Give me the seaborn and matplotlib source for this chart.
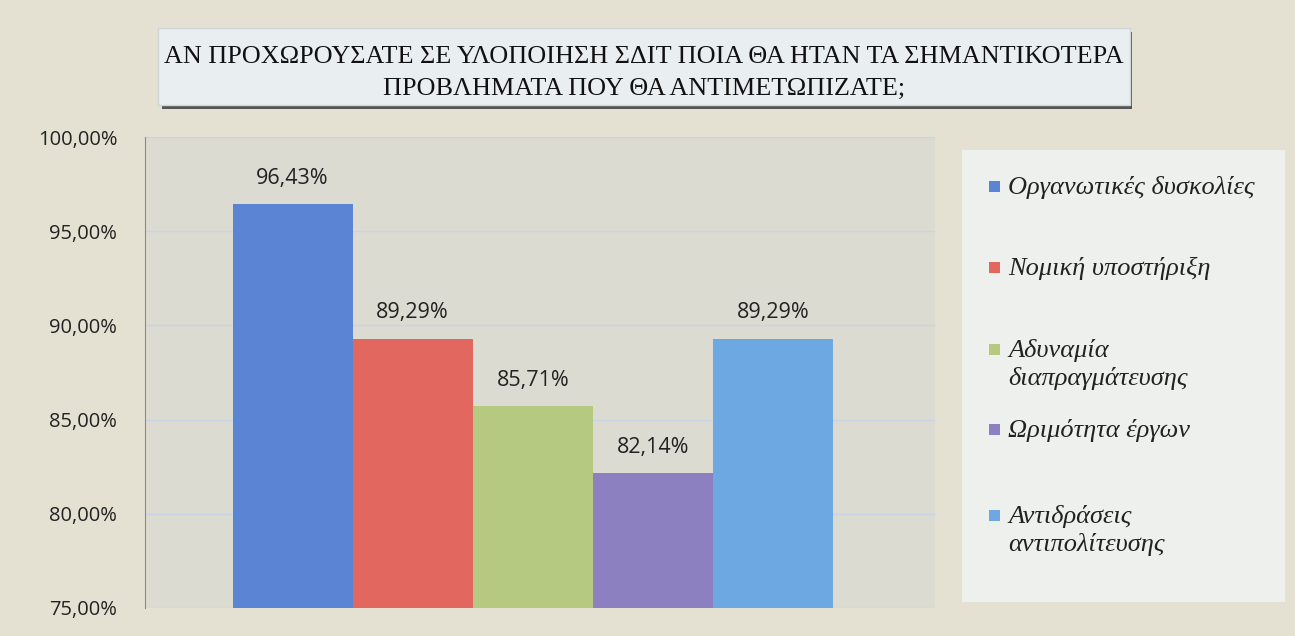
import matplotlib
matplotlib.use("Agg")
import matplotlib.pyplot as plt
from matplotlib.patches import Rectangle
import seaborn as sns

# Data
categories = ["Οργανωτικές δυσκολίες", "Νομική υποστήριξη", "Αδυναμία\nδιαπραγμάτευσης",
              "Ωριμότητα έργων", "Αντιδράσεις\nαντιπολίτευσης"]
values = [0.9643, 0.8929, 0.8571, 0.8214, 0.8929]
yticks = [0.75, 0.80, 0.85, 0.90, 0.95, 1.00]
colors = ["#5b84d4", "#e2675f", "#b5ca80", "#8c80c0", "#6ea8e2"]
title = ("ΑΝ ΠΡΟΧΩΡΟΥΣΑΤΕ ΣΕ ΥΛΟΠΟΙΗΣΗ ΣΔΙΤ ΠΟΙΑ ΘΑ ΗΤΑΝ ΤΑ ΣΗΜΑΝΤΙΚΟΤΕΡΑ\n"
         "ΠΡΟΒΛΗΜΑΤΑ ΠΟΥ ΘΑ ΑΝΤΙΜΕΤΩΠΙΖΑΤΕ;")

sns.set_style("white")
plt.rcParams['font.family'] = ['Open Sans', 'DejaVu Sans']

W, H = 1295, 636
fig = plt.figure(figsize=(W / 100, H / 100), dpi=100, facecolor="#e4e1d3")

def fx(px):
    return px / W

def fy(py):
    return 1 - py / H

# plot area
ax = fig.add_axes([fx(145), fy(608), fx(935) - fx(145), fy(137) - fy(608)])
ax.set_facecolor("#dcdbd2")

sns.barplot(x=categories, y=values, hue=categories, palette=colors, width=1.0,
            dodge=False, legend=False, saturation=1, linewidth=0, edgecolor="none", ax=ax)

ax.set_ylim(0.75, 1.0)
ax.set_xlim(-1.23, 5.35)
ax.set_yticks(yticks)
ax.set_yticklabels([f"{t*100:.2f}%".replace(".", ",") for t in yticks], fontsize=14.5, color="#222222")
ax.tick_params(axis="y", length=0, pad=20)
ax.set_xticks([])
ax.yaxis.grid(True, color="#c9d3e6", linewidth=1)
ax.set_axisbelow(True)
for s in ["top", "right", "bottom"]:
    ax.spines[s].set_visible(False)
ax.spines["left"].set_color("#8a8a8a")

for c in ax.containers:
    ax.bar_label(c, labels=[f"{v*100:.2f}%".replace(".", ",") for v in c.datavalues],
                 padding=11, fontsize=15.5, color="#222222")

# title box
fig.patches.append(Rectangle((fx(162), fy(109)), fx(1132) - fx(162), fy(32) - fy(109),
                             transform=fig.transFigure, facecolor="#555555", edgecolor="none", zorder=0))
fig.patches.append(Rectangle((fx(158), fy(105)), fx(1130) - fx(158), fy(28) - fy(105),
                             transform=fig.transFigure, facecolor="#e9eef0", edgecolor="#cfd6d8", zorder=1))
fig.text(fx(644), fy(73), title, ha="center", va="center", fontsize=18.8,
         family="Liberation Serif", color="#111111", linespacing=1.55, zorder=2)

# legend box
fig.patches.append(Rectangle((fx(962), fy(602)), fx(1285) - fx(962), fy(150) - fy(602),
                             transform=fig.transFigure, facecolor="#eef0ee", edgecolor="none", zorder=0))
legend_y = [187, 268, 350, 430, 516]
for lab, col, yy in zip(categories, colors, legend_y):
    fig.patches.append(Rectangle((fx(989), fy(yy + 5)), fx(11), fy(0) - fy(11),
                                 transform=fig.transFigure, facecolor=col, edgecolor="none", zorder=2))
    fig.text(fx(1008), fy(yy - 11), lab, ha="left", va="top",
             fontsize=19, family="Liberation Serif", style="italic", color="#222222",
             linespacing=1.3, zorder=3)

fig.savefig("out.png", dpi=100, facecolor=fig.get_facecolor())
